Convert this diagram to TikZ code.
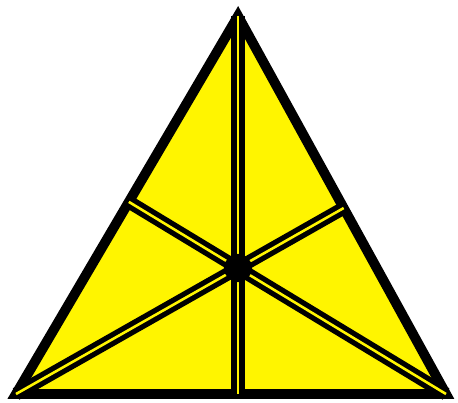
\documentclass[tikz,border=0pt]{standalone}
\usepackage{xcolor}
\usepackage{tikz}
\usetikzlibrary{calc}
\definecolor{triyellow}{RGB}{255,245,0}

\begin{document}
\begin{tikzpicture}[x=0.03cm, y=-0.03cm,
    median/.style={line width=4.5pt, double=triyellow, double distance=2.2pt},
    side/.style={line width=8.4pt, line join=miter, fill=triyellow}]
    \useasboundingbox (0,0) rectangle (458,403);
    \coordinate (a) at (238,16);
    \coordinate (b) at (16,394);
    \coordinate (c) at (446,394);
    \coordinate (g) at (238,268);

    \coordinate (mab) at (intersection of c--g and a--b);
    \coordinate (mbc) at ($(b)!(a)!(c)$);
    \coordinate (mca) at (intersection of b--g and a--c);

    \draw[side] (a) -- (b) -- (c) -- cycle;

    \draw[median] (a) -- (mbc);
    \draw[median] (b) -- (mca);
    \draw[median] (c) -- (mab);

    \node[circle, fill=black, inner sep=0pt, minimum size=24] (dot) at (g) {};
\end{tikzpicture}
\end{document}
